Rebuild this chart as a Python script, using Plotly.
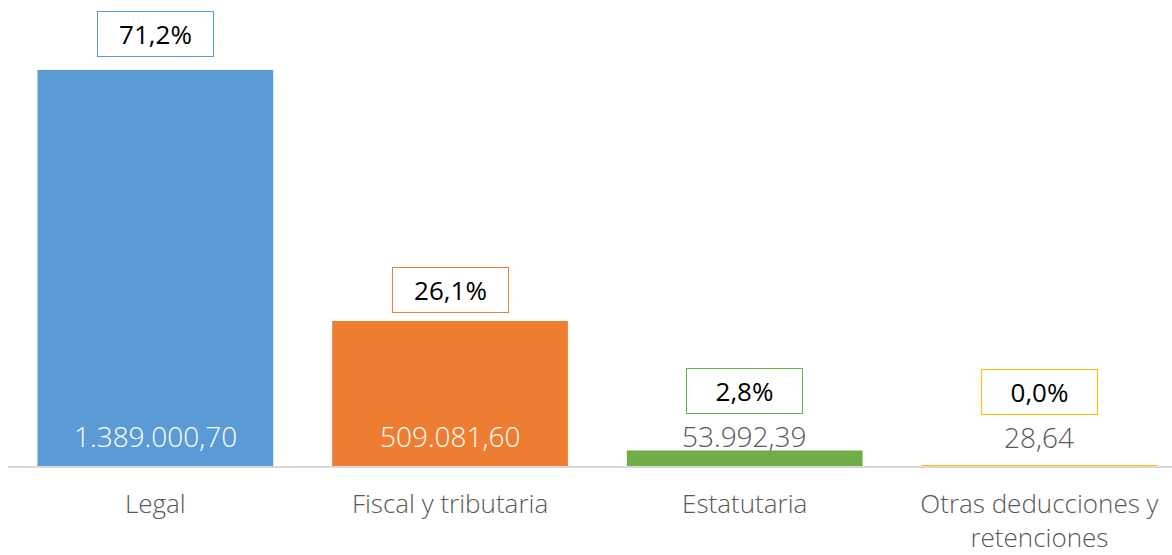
import plotly.graph_objects as go

categories = ["Legal", "Fiscal y tributaria", "Estatutaria", "Otras deducciones y<br>retenciones"]
values = [1389000.70, 509081.60, 53992.39, 28.64]
value_labels = ["1.389.000,70", "509.081,60", "53.992,39", "28,64"]
pct_labels = ["71,2%", "26,1%", "2,8%", "0,0%"]
colors = ["#5B9BD5", "#ED7D31", "#70AD47", "#FFC000"]

# label placement (layout constants, pixels)
label_inside = [True, True, False, False]
value_shift = [9, 9, -6, 8]
pct_shift = [13, 8, 37, 51]

x = list(range(len(categories)))
GRAY = "#595959"
LIGHT = dict(family="Open Sans", size=26, color=GRAY, weight=300)
VALFONT = dict(family="Open Sans", size=28, color=GRAY, weight=300)

fig = go.Figure(go.Bar(x=x, y=values, marker=dict(color=colors, line=dict(width=0)),
                       width=0.8, hoverinfo="skip"))

for i, v in enumerate(values):
    if label_inside[i]:
        fig.add_annotation(x=i, y=0, text=value_labels[i], showarrow=False,
                           yanchor="bottom", yshift=value_shift[i],
                           font=dict(VALFONT, color="white"))
    else:
        fig.add_annotation(x=i, y=v, text=value_labels[i], showarrow=False,
                           yanchor="bottom", yshift=value_shift[i], font=VALFONT)
    fig.add_annotation(x=i, y=v, text=pct_labels[i], showarrow=False,
                       yanchor="bottom", yshift=pct_shift[i], width=109, height=38,
                       bordercolor=colors[i], borderwidth=1, borderpad=3,
                       bgcolor="white", font=dict(family="Open Sans", size=26, color="black"))

fig.update_layout(
    width=1172, height=555,
    margin=dict(l=8, r=0, t=0, b=83),
    paper_bgcolor="white", plot_bgcolor="white",
    showlegend=False,
    xaxis=dict(tickvals=x, ticktext=categories, range=[-0.5, 3.45],
               showline=True, linecolor="#D9D9D9", linewidth=2,
               ticks="outside", ticklen=14, tickcolor="rgba(0,0,0,0)",
               tickfont=LIGHT, showgrid=False, zeroline=False, fixedrange=True),
    yaxis=dict(range=[0, 1634950], visible=False, showgrid=False, zeroline=False, fixedrange=True),
)

fig.write_html("out.html", config={"displayModeBar": False},
               post_script="document.body.style.margin='0';document.body.style.overflow='hidden';")
